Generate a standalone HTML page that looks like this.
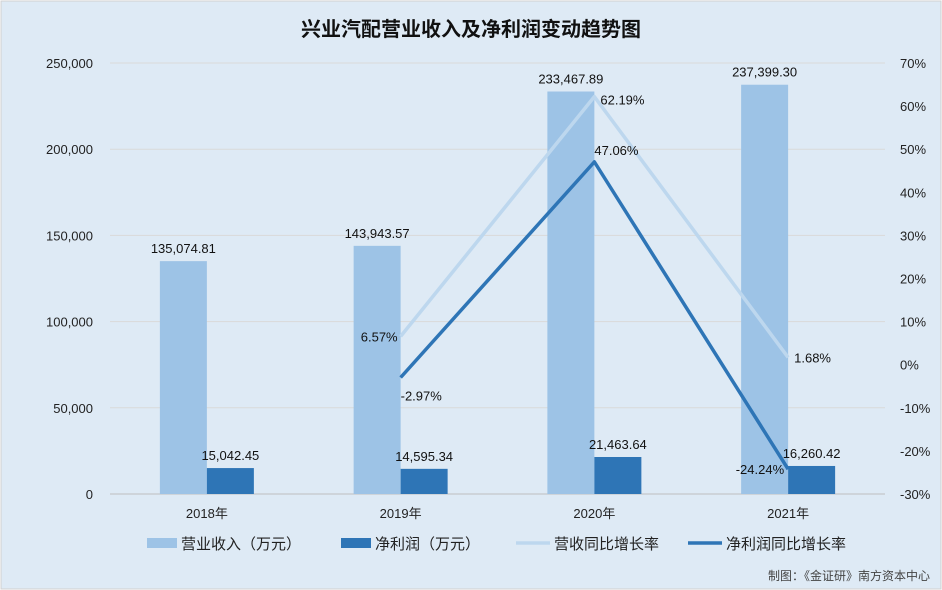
<!DOCTYPE html>
<html><head><meta charset="utf-8"><style>
body{margin:0;width:942px;height:590px;overflow:hidden;background:#fff}
svg{display:block;font-family:"Liberation Sans","Noto Sans CJK SC",sans-serif}
</style></head><body>
<svg id="c" width="942" height="590">
<rect x="1" y="1" width="940" height="588" fill="#deeaf5" stroke="#d0d0d0"/>
<text x="471" y="36" text-anchor="middle" font-size="20" font-weight="bold" fill="#111">兴业汽配营业收入及净利润变动趋势图</text>
<text x="930" y="580" text-anchor="end" font-size="12" fill="#444">制图：《金证研》南方资本中心</text>
</svg>
<script>
const years=["2018年","2019年","2020年","2021年"];
const revenue=[135074.81,143943.57,233467.89,237399.30];
const profit=[15042.45,14595.34,21463.64,16260.42];
const revGrowth=[null,6.57,62.19,1.68];
const profGrowth=[null,-2.97,47.06,-24.24];
const leftTicks=[0,50000,100000,150000,200000,250000];
const rightTicks=[-30,-20,-10,0,10,20,30,40,50,60,70];
const svg=document.getElementById('c');
const NS='http://www.w3.org/2000/svg';
function mk(t,a,p){const e=document.createElementNS(NS,t);for(const k in a)e.setAttribute(k,a[k]);(p||svg).appendChild(e);return e;}
const x0=110,x1=885,yT=63,yB=494;
const yL=v=>yB-(v/250000)*(yB-yT);
const yR=v=>yB-((v+30)/100)*(yB-yT);
const cw=(x1-x0)/years.length;
const cx=i=>x0+cw*(i+0.5);
const fmt=v=>v.toLocaleString('en-US',{minimumFractionDigits:2,maximumFractionDigits:2});
leftTicks.forEach(t=>{
 const g=mk('line',{x1:x0,x2:x1,y1:yL(t),y2:yL(t),stroke:t===0?'#bfbfbf':'#d9d9d9'});
 
 const l=mk('text',{x:93,y:yL(t)+5,'text-anchor':'end','font-size':13,fill:'#222'});l.textContent=t.toLocaleString('en-US');
 
});
rightTicks.forEach(t=>{
 const l=mk('text',{x:900,y:yR(t)+5,'font-size':13,fill:'#222'});l.textContent=t+'%';
 
});
const bw=47;
years.forEach((y,i)=>{
 const c=cx(i);
 const b1=mk('rect',{x:c-bw,y:yL(revenue[i]),width:bw,height:yB-yL(revenue[i]),fill:'#9dc3e6'});
 
 const b2=mk('rect',{x:c,y:yL(profit[i]),width:bw,height:yB-yL(profit[i]),fill:'#2e75b6'});
 
 const t1=mk('text',{x:c-bw/2,y:yL(revenue[i])-8,'text-anchor':'middle','font-size':13,fill:'#111'});t1.textContent=fmt(revenue[i]);
 
 const t2=mk('text',{x:c+bw/2,y:yL(profit[i])-8,'text-anchor':'middle','font-size':13,fill:'#111'});t2.textContent=fmt(profit[i]);
 
 const xl=mk('text',{x:c,y:518,'text-anchor':'middle','font-size':13,fill:'#222'});xl.textContent=y;
 
});
function line(arr,color,name){
 const pts=[];arr.forEach((v,i)=>{if(v!==null)pts.push(cx(i)+','+yR(v));});
 const p=mk('polyline',{points:pts.join(' '),fill:'none',stroke:color,'stroke-width':3.5,'stroke-linejoin':'round'});
 
}
line(revGrowth,'#bdd7ee','revenue-growth-line');
line(profGrowth,'#2e75b6','profit-growth-line');
revGrowth.forEach((v,i)=>{if(v===null)return;
 const t=mk('text',{x:i===1?cx(i)-3:cx(i)+6,y:yR(v)+(i===2?8:5),'text-anchor':i===1?'end':'start','font-size':13,fill:'#111'});t.textContent=v.toFixed(2)+'%';
 });
profGrowth.forEach((v,i)=>{if(v===null)return;
 const t=mk('text',{x:i===3?cx(i)-4:cx(i),y:yR(v)+(i===2?-7:i===1?23:5),'text-anchor':i===3?'end':'start','font-size':13,fill:'#111'});t.textContent=v.toFixed(2)+'%';
 });
const leg=[['营业收入（万元）','#9dc3e6','bar',147],['净利润（万元）','#2e75b6','bar',341],['营收同比增长率','#bdd7ee','line',516],['净利润同比增长率','#2e75b6','line',688]];
leg.forEach(l=>{
 const g=mk('g',{});
 if(l[2]==='bar')mk('rect',{x:l[3],y:538,width:30,height:10,fill:l[1]},g);
 else mk('line',{x1:l[3],x2:l[3]+34,y1:543,y2:543,stroke:l[1],'stroke-width':3.5},g);
 const t=mk('text',{x:l[3]+(l[2]==='bar'?34:38),y:549,'font-size':15,fill:'#222'},g);t.textContent=l[0];
});
</script>
</body></html>
